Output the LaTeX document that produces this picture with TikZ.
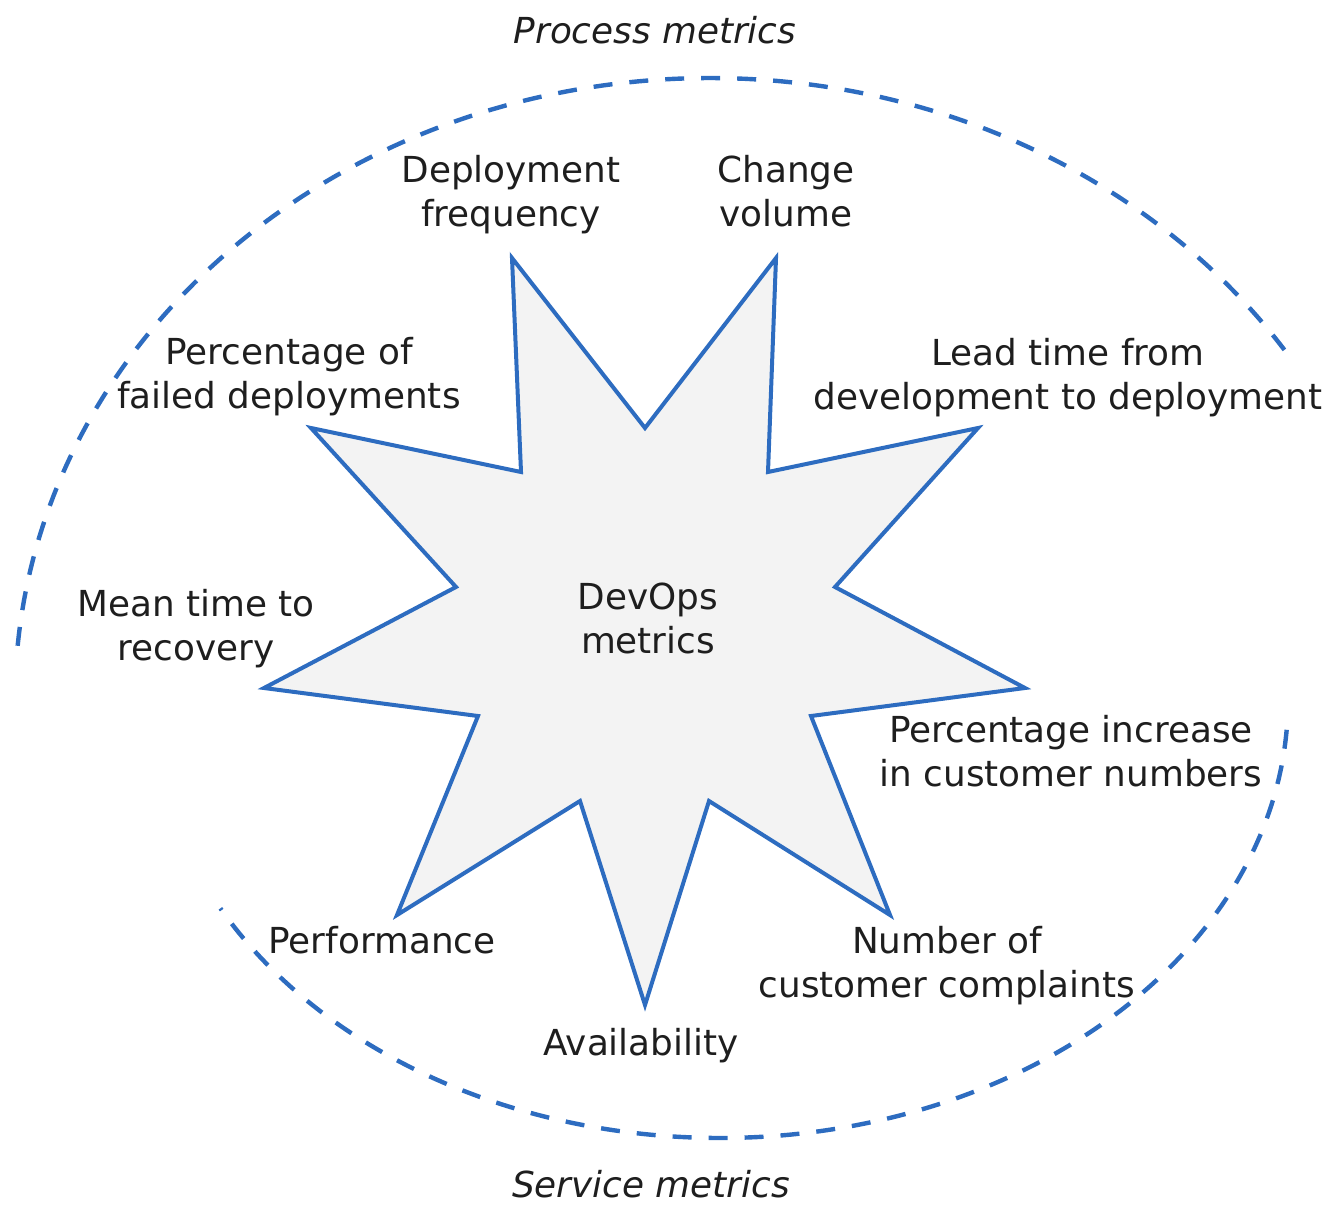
\documentclass[tikz,border=0pt]{standalone}
\usepackage{fontspec}
\setmainfont{DejaVu Sans}
\definecolor{ablue}{RGB}{45,108,192}
\definecolor{sfill}{RGB}{243,243,243}
\definecolor{tcol}{RGB}{30,30,30}
\begin{document}
\begin{tikzpicture}[x=1pt,y=-1pt,
  lbl/.style={font=\fontsize{35.8}{43.5}\selectfont, text=tcol, align=center, inner sep=0pt, anchor=base},
  ital/.style={lbl, font=\fontsize{35.8}{43.5}\selectfont\itshape},
  arcline/.style={draw=ablue, line width=4.4pt, dash pattern=on 19pt off 17pt},
  starline/.style={draw=ablue, line width=4pt, fill=sfill, line join=miter}]
\useasboundingbox (0,0) rectangle (1337,1212);
% dashed arcs
\draw[arcline] plot[domain=175:33.9, samples=240] ({710+695*cos(\x)}, {700-622*sin(\x)});
\draw[arcline] plot[domain=356.1:208.4, samples=240] ({720+568*cos(\x)}, {700-438*sin(\x)});
% star
\draw[starline] (512,258) -- (645,428) -- (776,258) -- (768,472) -- (978,428) -- (835,587)
  -- (1025,688) -- (811,716) -- (890,915) -- (709,801) -- (645,1005) -- (580,801)
  -- (397,915) -- (478,716) -- (264,688) -- (456,587) -- (311,428) -- (521,472) -- cycle;
% labels (base = baseline of last line)
\node[ital] (proc) at (655,44) {Process metrics};
\node[ital] (serv) at (651,1197) {Service metrics};
\node[lbl] (center) at (648,653) {DevOps\\metrics};
\node[lbl] (depf) at (511,226) {Deployment\\frequency};
\node[lbl] (chv) at (786,226) {Change\\volume};
\node[lbl] (pfd) at (289,408) {Percentage of\\failed deployments};
\node[lbl] (ltd) at (1068,409) {Lead time from\\development to deployment};
\node[lbl] (mttr) at (196,660) {Mean time to\\recovery};
\node[lbl] (pic) at (1071,786) {Percentage increase\\in customer numbers};
\node[lbl] (perf) at (382,953) {Performance};
\node[lbl] (ncc) at (947,997) {Number of\\customer complaints};
\node[lbl] (avail) at (641,1055) {Availability};
\end{tikzpicture}
\end{document}
